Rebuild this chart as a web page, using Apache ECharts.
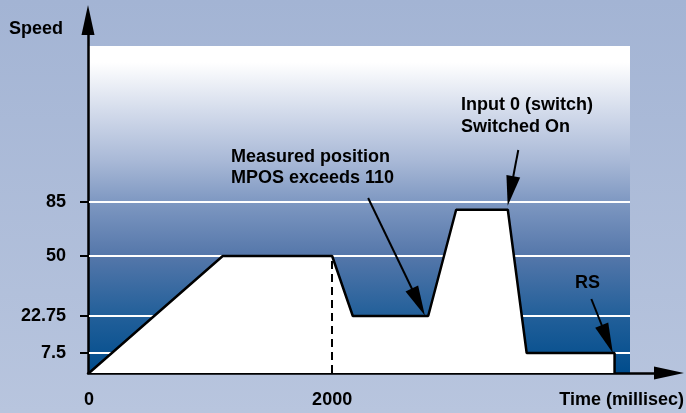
<!DOCTYPE html>
<html>
<head>
<meta charset="utf-8">
<script src="https://cdn.jsdelivr.net/npm/echarts@6/dist/echarts.min.js"></script>
<style>
html, body { margin: 0; padding: 0; }
#chart { width: 686px; height: 413px; }
</style>
</head>
<body>
<div id="chart"></div>
<script>
// speed profile (time in ms, speed in units)
const timeMs = [0, 1100, 2000, 2170, 2790, 3020, 3445, 3600, 4323, 4323];
const speed = [0, 50, 50, 22.75, 22.75, 80, 80, 7.5, 7.5, 0];
const speedTicks = [7.5, 22.75, 50, 85];
const timeTicks = [0, 2000];
const timeMax = 4450;

// the speed axis of the original is not linear, so map it piecewise
const warpFrom = [0, 7.5, 22.75, 50, 85, 186];
const warpTo = [0, 20, 57, 117, 171, 327];
function warp(v) {
    for (let i = 1; i < warpFrom.length; i++) {
        if (v <= warpFrom[i]) {
            const t = (v - warpFrom[i - 1]) / (warpFrom[i] - warpFrom[i - 1]);
            return warpTo[i - 1] + t * (warpTo[i] - warpTo[i - 1]);
        }
    }
    return warpTo[warpTo.length - 1];
}
const tickPos = speedTicks.map(warp);

const font = '"Liberation Sans", Arial, sans-serif';
const txt = { color: '#000', fontWeight: 'bold', fontSize: 18, fontFamily: font };

var chartDom = document.getElementById('chart');
var myChart = echarts.init(chartDom);

const option = {
    animation: false,
    backgroundColor: new echarts.graphic.LinearGradient(0, 0, 0, 1, [
        { offset: 0, color: '#a3b4d4' },
        { offset: 1, color: '#b8c5de' }
    ]),
    grid: [{
        left: 89, right: 56, top: 46, bottom: 40,
        show: true,
        borderWidth: 0,
        backgroundColor: new echarts.graphic.LinearGradient(0, 0, 0, 1, [
            { offset: 0, color: '#ffffff' },
            { offset: 0.05, color: '#ffffff' },
            { offset: 0.2, color: '#d3dbeb' },
            { offset: 0.35, color: '#a9b9d7' },
            { offset: 0.48, color: '#7d97c1' },
            { offset: 0.64, color: '#5577aa' },
            { offset: 0.82, color: '#23609a' },
            { offset: 1, color: '#004c8c' }
        ])
    }, {
        // frame with the arrow axes
        left: 88, right: 17, top: 20, bottom: 40
    }],
    xAxis: [{
        type: 'value', min: 0, max: timeMax, gridIndex: 0,
        axisLine: { show: false },
        axisTick: { show: false },
        splitLine: { show: false },
        axisLabel: Object.assign({ customValues: timeTicks, margin: 18, formatter: v => String(v) }, txt)
    }, {
        type: 'value', min: 0, max: 1, gridIndex: 1, position: 'bottom',
        axisLine: {
            show: true, onZero: false,
            symbol: ['none', 'triangle'], symbolSize: [13, 30],
            lineStyle: { color: '#000', width: 2.5 }
        },
        axisTick: { show: false }, axisLabel: { show: false }, splitLine: { show: false }
    }],
    yAxis: [{
        type: 'value', min: 0, max: 327, gridIndex: 0,
        axisLine: { show: false },
        splitLine: { show: false },
        axisTick: {
            show: true, customValues: tickPos, length: 9,
            lineStyle: { color: '#000', width: 2 }
        },
        axisLabel: Object.assign({
            customValues: tickPos, margin: 23,
            formatter: function (v) {
                const i = tickPos.findIndex(p => Math.abs(p - v) < 0.01);
                return i >= 0 ? String(speedTicks[i]) : '';
            }
        }, txt)
    }, {
        type: 'value', min: 0, max: 1, gridIndex: 1, position: 'left',
        axisLine: {
            show: true, onZero: false,
            symbol: ['none', 'triangle'], symbolSize: [13, 30],
            lineStyle: { color: '#000', width: 2.5 }
        },
        axisTick: { show: false }, axisLabel: { show: false }, splitLine: { show: false }
    }],
    graphic: [
        { type: 'text', left: 9, top: 20, style: { text: 'Speed', fill: '#000', font: 'bold 18px ' + font } },
        { type: 'text', right: 2, top: 391, style: { text: 'Time (millisec)', fill: '#000', font: 'bold 18px ' + font } }
    ],
    series: [{
        // white guide lines
        type: 'line', data: [], z: 1, silent: true,
        markLine: {
            z: 1, silent: true, symbol: 'none', label: { show: false },
            lineStyle: { color: '#fff', width: 2, type: 'solid' },
            data: tickPos.map(p => ({ yAxis: p }))
        }
    }, {
        type: 'line', z: 3, symbol: 'none',
        data: timeMs.map((t, i) => [t, warp(speed[i])]),
        lineStyle: { color: '#000', width: 2.5 },
        areaStyle: { color: '#fff', opacity: 1 },
        markLine: {
            silent: true, symbol: 'none', label: { show: false },
            lineStyle: { color: '#000', width: 2, type: [8, 5] },
            data: [[{ coord: [2000, warp(0)] }, { coord: [2000, warp(50)] }]]
        }
    }, {
        // annotations
        type: 'line', data: [], z: 4, silent: true,
        markLine: {
            silent: true, symbol: ['none', 'triangle'], symbolSize: [14, 30],
            label: { show: false },
            lineStyle: { color: '#000', width: 2, type: 'solid' },
            data: [
                [{ coord: [3531, 223] }, { coord: [3467, 182] }],
                [{ coord: [2296, 175] }, { coord: [2709, 71] }],
                [{ coord: [4132, 74] }, { coord: [4263, 34] }]
            ]
        },
        markPoint: {
            symbolSize: 0,
            label: {
                show: true, position: [0, 0], align: 'left', verticalAlign: 'top',
                color: '#000', fontWeight: 'bold', fontSize: 18, fontFamily: font, lineHeight: 21
            },
            data: [
                { coord: [3060, 279], label: { formatter: 'Input 0 (switch)\nSwitched On', lineHeight: 22 } },
                { coord: [1168, 226], label: { formatter: 'Measured position\nMPOS exceeds 110' } },
                { coord: [3998, 100], label: { formatter: 'RS' } }
            ]
        }
    }]
};

option && myChart.setOption(option);
window.addEventListener('resize', () => {
    myChart.resize();
});
</script>
</body>
</html>
